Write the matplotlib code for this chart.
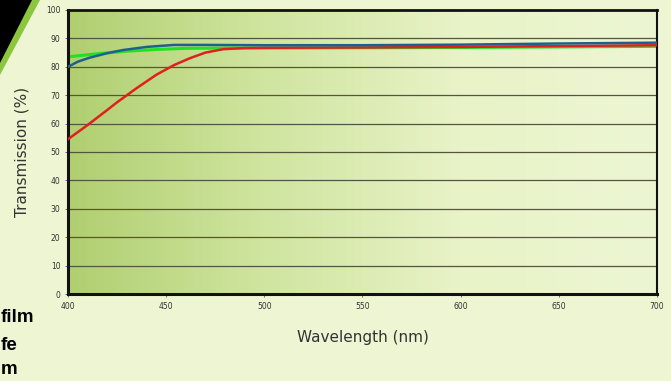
import matplotlib
matplotlib.use("Agg")
import matplotlib.pyplot as plt
import numpy as np
from matplotlib.colors import LinearSegmentedColormap
from matplotlib.patches import Polygon

# wavelength (nm) and transmission (%)
red_x = [400, 410, 420, 425, 435, 445, 454, 462, 470, 479, 490, 500, 550, 600, 650, 700]
red_y = [54.5, 59.5, 64.8, 67.5, 72.5, 77.2, 80.6, 83.0, 85.0, 86.2, 86.6, 86.7, 86.8, 87.0, 87.3, 87.6]
blue_x = [400, 405, 411, 420, 428, 440, 454, 470, 500, 550, 600, 650, 700]
blue_y = [80.0, 81.8, 83.2, 84.8, 85.9, 87.0, 87.7, 87.7, 87.6, 87.6, 87.8, 88.2, 88.5]
green_x = [400, 415, 430, 445, 460, 480, 500, 550, 600, 650, 700]
green_y = [83.5, 84.6, 85.5, 86.1, 86.5, 86.6, 86.6, 86.7, 86.8, 87.0, 87.2]

xticks = [400, 450, 500, 550, 600, 650, 700]
yticks = [0, 10, 20, 30, 40, 50, 60, 70, 80, 90, 100]

fig = plt.figure(figsize=(6.71, 3.81), dpi=100)
fig.patch.set_facecolor("#eef5d2")

# decoration in the top left corner
fig.patches.append(Polygon([[0, 1], [40/671, 1], [0, 1-75/381]], closed=True,
                           transform=fig.transFigure, facecolor="#8cc63f", edgecolor="none"))
fig.patches.append(Polygon([[0, 1], [32/671, 1], [0, 1-63/381]], closed=True,
                           transform=fig.transFigure, facecolor="#000000", edgecolor="none"))

ax = fig.add_axes([68/671, 1-294/381, (657-68)/671, (294-10)/381])

cmap = LinearSegmentedColormap.from_list("bg", ["#b0cf70", "#d0e5a0", "#e8f3c7", "#edf6d3"])
grad = np.linspace(0, 1, 256).reshape(1, -1)
ax.imshow(grad, cmap=cmap, aspect="auto", extent=[400, 700, 0, 100], zorder=0)

for y in yticks[1:-1]:
    ax.axhline(y, color="#55553f", lw=0.9, zorder=1)

ax.plot(red_x, red_y, color="#e0201c", lw=1.8, zorder=3)
ax.plot(green_x, green_y, color="#22e022", lw=2.2, zorder=2)
ax.plot(blue_x, blue_y, color="#1f5f8f", lw=1.8, zorder=4)

ax.set_xlim(400, 700)
ax.set_ylim(0, 100)
ax.set_xticks(xticks)
ax.set_yticks(yticks)
ax.tick_params(axis="both", labelsize=5.5, colors="#555555", length=2, width=0.6)
for lab in ax.get_xticklabels() + ax.get_yticklabels():
    lab.set_color("#333333")
for s in ax.spines.values():
    s.set_linewidth(1.5)
    s.set_color("#111111")
ax.spines["left"].set_linewidth(2.2)
ax.spines["bottom"].set_linewidth(2.2)
ax.spines["top"].set_linewidth(2.0)

ax.set_xlabel("Wavelength (nm)", fontsize=11, color="#333333", labelpad=14)
ax.set_ylabel("Transmission (%)", fontsize=11, color="#333333", labelpad=12)

# cut-off caption text at the bottom left
fnt = dict(fontsize=13.5, fontweight="bold", family=["Liberation Sans", "DejaVu Sans"], ha="left", va="center")
fig.text(1/671, 1-318/381, "film", **fnt)
fig.text(1/671, 1-345/381, "fe", **fnt)
fig.text(1/671, 1-370/381, "m", **fnt)

fig.savefig("out.png", dpi=100, facecolor=fig.get_facecolor())
